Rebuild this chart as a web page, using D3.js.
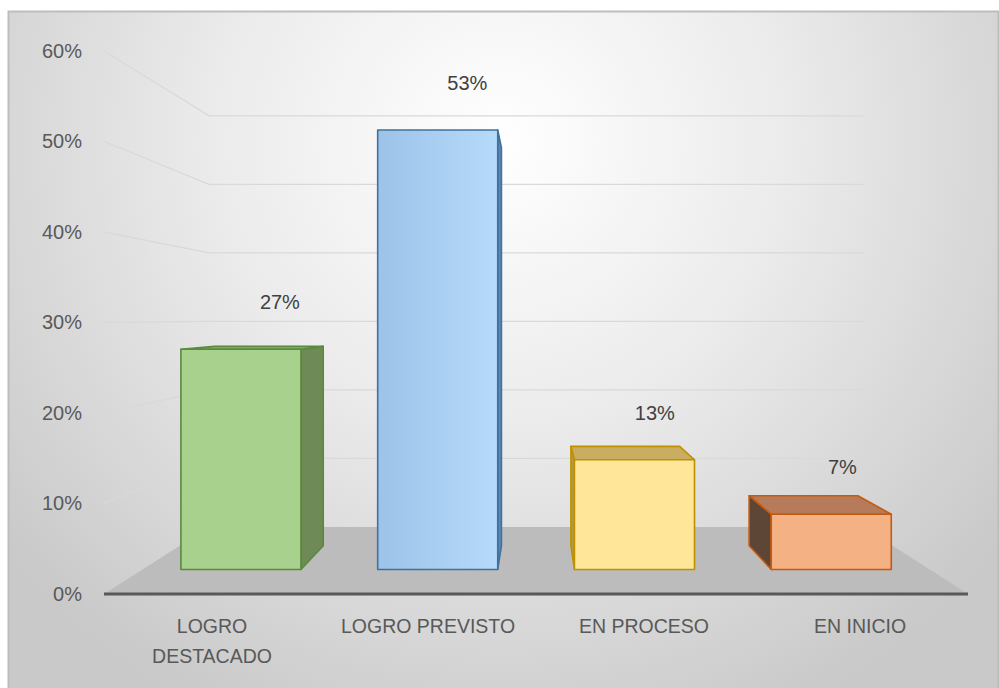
<!DOCTYPE html>
<html lang="es">
<head>
<meta charset="UTF-8">
<title>Logros</title>
<style>
  body { margin: 0; background: #fff; }
  svg text { font-family: "Liberation Sans", Arial, sans-serif; }
</style>
</head>
<body>
<script src="https://d3js.org/d3.v7.min.js"></script>
<script>

// data
var categories = ["LOGRO DESTACADO", "LOGRO PREVISTO", "EN PROCESO", "EN INICIO"];
var values = [0.267, 0.533, 0.133, 0.067];
var valueLabels = ["27%", "53%", "13%", "7%"];
var yTicks = [0, 0.1, 0.2, 0.3, 0.4, 0.5, 0.6];

// bar styles: front, side, top, border
var palette = [
  {front: "#a9d18e", side: "#6d8a57", top: "#8fb075", stroke: "#5b8a3c"},
  {front: "url(#blueFront)", side: "#5b88b8", top: "#7fa7d0", stroke: "#41719c"},
  {front: "#ffe699", side: "#b39b45", top: "#c9ae62", stroke: "#bf9000"},
  {front: "#f4b183", side: "#5e4636", top: "#b57b5a", stroke: "#c55a11"}
];

var width = 999, height = 688;

// perspective: vanishing point and depth scales
var vp = [537, 318];
var floorFront = 1, floorBack = 0.757;
var barFront = 0.911, barBack = 0.825;

function project(xf, yf, s) {
  return [vp[0] + s * (xf - vp[0]), vp[1] + s * (yf - vp[1])];
}

var x = d3.scaleBand()
  .domain(categories)
  .range([104, 968])
  .paddingInner(0.39)
  .paddingOuter(0.195);

var y = d3.scaleLinear()
  .domain([0, 0.6])
  .range([594, 51]);

var svg = d3.select("body").append("svg")
  .attr("width", width)
  .attr("height", height);

var defs = svg.append("defs");
var bg = defs.append("radialGradient")
  .attr("id", "bg")
  .attr("gradientUnits", "userSpaceOnUse")
  .attr("cx", 500).attr("cy", 140).attr("r", 640);
bg.append("stop").attr("offset", 0).attr("stop-color", "#ffffff");
bg.append("stop").attr("offset", 0.45).attr("stop-color", "#ebebeb");
bg.append("stop").attr("offset", 1).attr("stop-color", "#c9c9c9");

var bf = defs.append("linearGradient").attr("id", "blueFront")
  .attr("x1", 0).attr("x2", 1).attr("y1", 0).attr("y2", 0);
bf.append("stop").attr("offset", 0).attr("stop-color", "#9cc3e8");
bf.append("stop").attr("offset", 1).attr("stop-color", "#b6dafa");

svg.append("rect")
  .attr("x", 8.5).attr("y", 11.5)
  .attr("width", 990).attr("height", 690)
  .style("fill", "url(#bg)")
  .style("stroke", "#bdbdbd")
  .style("stroke-width", 2);

var line = d3.line();
var x0 = x.range()[0], x1 = x.range()[1];

// gridlines on side wall and back wall
var grid = svg.append("g").attr("class", "grid");
yTicks.filter(function(d){ return d > 0; }).forEach(function(t) {
  grid.append("path")
    .attr("d", line([
      project(x0, y(t), floorFront),
      project(x0, y(t), floorBack),
      project(x1, y(t), floorBack)
    ]))
    .style("fill", "none")
    .style("stroke", "#d9d9d9")
    .style("stroke-width", 1.3);
});

// floor
svg.append("path")
  .attr("d", line([
    project(x0, y(0), floorFront),
    project(x0, y(0), floorBack),
    project(x1, y(0), floorBack),
    project(x1, y(0), floorFront)
  ]) + "Z")
  .style("fill", "#bcbcbc");

// bars
var bars = svg.append("g").attr("class", "bars");
categories.forEach(function(c, i) {
  var l = x(c), r = x(c) + x.bandwidth();
  var b = y(0), t = y(values[i]);
  var col = palette[i];
  var g = bars.append("g");

  var faces = [];
  // side face
  if (project(r, b, barFront)[0] < vp[0]) {
    faces.push({pts: [[r, b, barFront], [r, b, barBack], [r, t, barBack], [r, t, barFront]], fill: col.side});
  } else if (project(l, b, barFront)[0] > vp[0]) {
    faces.push({pts: [[l, b, barFront], [l, b, barBack], [l, t, barBack], [l, t, barFront]], fill: col.side});
  }
  // top face
  if (project(l, t, barFront)[1] > vp[1]) {
    faces.push({pts: [[l, t, barFront], [l, t, barBack], [r, t, barBack], [r, t, barFront]], fill: col.top});
  }
  faces.push({pts: [[l, b, barFront], [l, t, barFront], [r, t, barFront], [r, b, barFront]], fill: col.front});

  faces.forEach(function(f) {
    g.append("path")
      .attr("d", line(f.pts.map(function(p){ return project(p[0], p[1], p[2]); })) + "Z")
      .style("fill", f.fill)
      .style("stroke", col.stroke)
      .style("stroke-width", 1.6)
      .style("stroke-linejoin", "round");
  });

  var mid = (barFront + barBack) / 2;
  var top = project(l + x.bandwidth() / 2, t, mid);
  var front = project(l, t, barFront);
  svg.append("text")
    .attr("x", top[0] + 25)
    .attr("y", front[1] - 40)
    .attr("text-anchor", "middle")
    .style("font-size", "20px")
    .style("fill", "#404040")
    .text(valueLabels[i]);
});

// category axis
var xAxis = svg.append("g")
  .attr("transform", "translate(0," + y(0) + ")")
  .call(d3.axisBottom(x).tickSize(0).tickPadding(25));
xAxis.select(".domain").remove();
xAxis.selectAll("text")
  .style("font-size", "19.5px")
  .style("fill", "#595959")
  .call(wrap, 185);

svg.append("line")
  .attr("x1", x0).attr("x2", x1)
  .attr("y1", y(0)).attr("y2", y(0))
  .style("stroke", "#595959")
  .style("stroke-width", 3);

// value axis
var yAxis = svg.append("g")
  .attr("transform", "translate(86,0)")
  .call(d3.axisLeft(y).tickValues(yTicks).tickFormat(d3.format(".0%")).tickSize(0).tickPadding(4));
yAxis.select(".domain").remove();
yAxis.selectAll("text")
  .style("font-size", "20px")
  .style("fill", "#595959");

function wrap(text, w) {
  text.each(function() {
    var text = d3.select(this),
        words = text.text().split(/\s+/).reverse(),
        word, ln = [], lineNumber = 0,
        yy = text.attr("y"), dy = parseFloat(text.attr("dy")),
        tspan = text.text(null).append("tspan").attr("x", 0).attr("y", yy).attr("dy", dy + "em");
    while (word = words.pop()) {
      ln.push(word);
      tspan.text(ln.join(" "));
      if (tspan.node().getComputedTextLength() > w && ln.length > 1) {
        ln.pop();
        tspan.text(ln.join(" "));
        ln = [word];
        tspan = text.append("tspan").attr("x", 0).attr("y", yy)
          .attr("dy", ++lineNumber * 1.54 + dy + "em").text(word);
      }
    }
  });
}

</script>
</body>
</html>
